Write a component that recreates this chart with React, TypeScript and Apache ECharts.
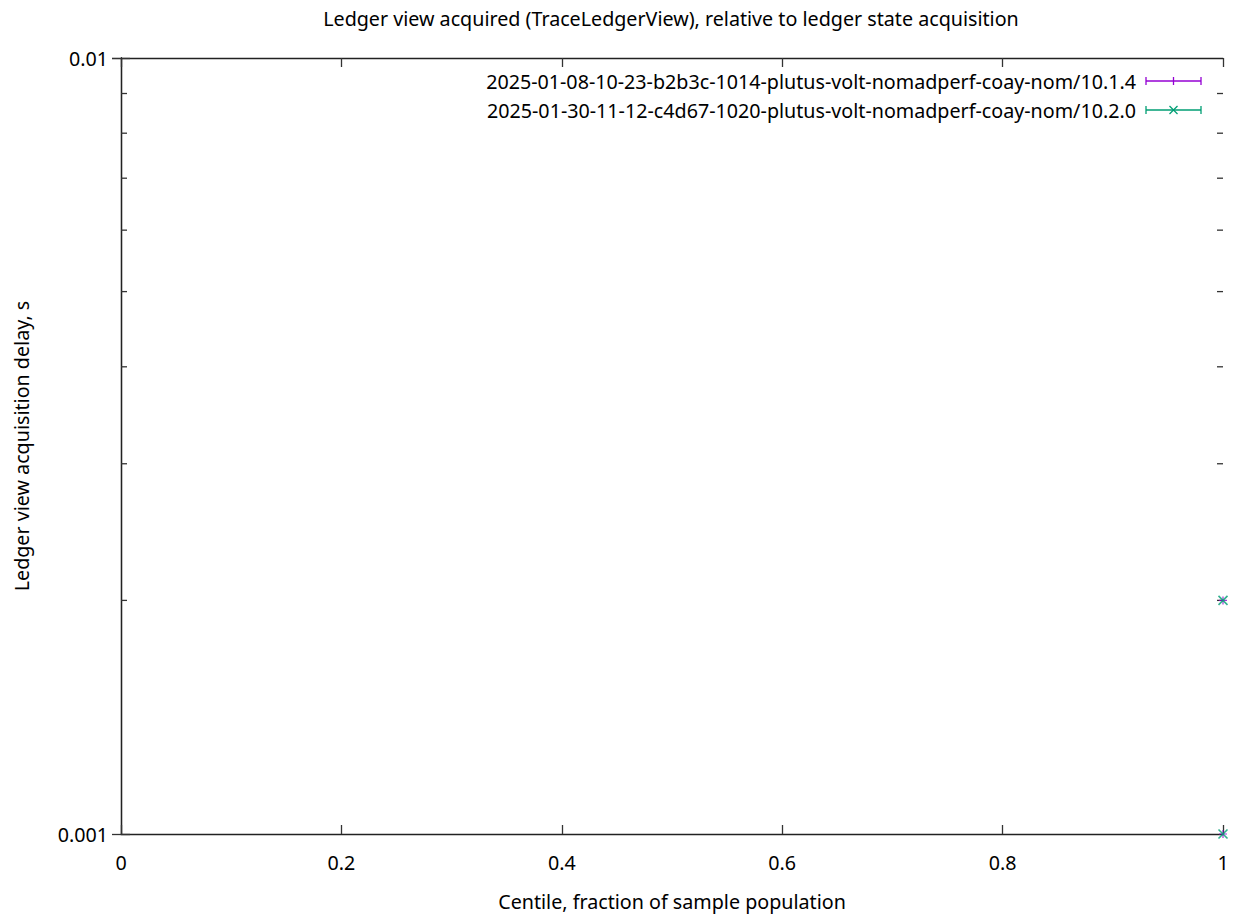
import React, { useEffect, useRef } from "react";
import * as echarts from "echarts";

const titleText = "Ledger view acquired (TraceLedgerView), relative to ledger state acquisition";
const xAxisName = "Centile, fraction of sample population";
const yAxisName = "Ledger view acquisition delay, s";
const seriesNames = [
  "2025-01-08-10-23-b2b3c-1014-plutus-volt-nomadperf-coay-nom/10.1.4",
  "2025-01-30-11-12-c4d67-1020-plutus-volt-nomadperf-coay-nom/10.2.0",
];
const seriesColors = ["#9400D3", "#009E73"];
const centiles = [1, 1];
const delaysA = [0.002, 0.001];
const delaysB = [0.002, 0.001];
const yMinorTicks = [0.002, 0.003, 0.004, 0.005, 0.006, 0.007, 0.008, 0.009];

const FONT = "Noto Sans";
const FS = 19.7;
const PLUS = "path://M5,0 L5,10 M0,5 L10,5";
const CROSS = "path://M0,0 L10,10 M0,10 L10,0";

export default function App() {
  const ref = useRef<HTMLDivElement>(null);
  useEffect(() => {
    const chart = echarts.init(ref.current!, null, { renderer: "svg" });
    const axisLine = { show: true, lineStyle: { color: "#222", width: 1.3 } };
    const majorTick = { show: true, inside: true, length: 9, lineStyle: { color: "#333", width: 1.3 } };
    const legendY = [81, 110];
    const legendGraphics: any[] = [];
    seriesNames.forEach((name, i) => {
      const y = legendY[i];
      const c = seriesColors[i];
      legendGraphics.push(
        { type: "text", x: 1136, y, style: { text: name, fill: "#000", font: `${FS}px "${FONT}"`, align: "right", verticalAlign: "middle" } },
        { type: "line", shape: { x1: 1146, y1: y, x2: 1201, y2: y }, style: { stroke: c, lineWidth: 1.3 } },
        { type: "line", shape: { x1: 1146, y1: y - 4, x2: 1146, y2: y + 4 }, style: { stroke: c, lineWidth: 1.3 } },
        { type: "line", shape: { x1: 1201, y1: y - 4, x2: 1201, y2: y + 4 }, style: { stroke: c, lineWidth: 1.3 } },
      );
      if (i === 0) {
        legendGraphics.push({ type: "line", shape: { x1: 1173.5, y1: y - 4, x2: 1173.5, y2: y + 4 }, style: { stroke: c, lineWidth: 1.3 } });
      } else {
        legendGraphics.push(
          { type: "line", shape: { x1: 1169.5, y1: y - 4, x2: 1177.5, y2: y + 4 }, style: { stroke: c, lineWidth: 1.3 } },
          { type: "line", shape: { x1: 1169.5, y1: y + 4, x2: 1177.5, y2: y - 4 }, style: { stroke: c, lineWidth: 1.3 } },
        );
      }
    });

    chart.setOption({
      animation: false,
      backgroundColor: "#fff",
      textStyle: { fontFamily: FONT },
      title: {
        text: titleText,
        left: 666,
        textAlign: "center",
        top: 3,
        textStyle: { fontFamily: FONT, fontSize: FS, fontWeight: "normal", color: "#000" },
      },
      grid: { left: 121, width: 1102, top: 58, height: 776 },
      xAxis: [
        {
          type: "value",
          min: 0,
          max: 1,
          interval: 0.2,
          name: xAxisName,
          nameLocation: "middle",
          nameGap: 57,
          nameTextStyle: { fontFamily: FONT, fontSize: FS, color: "#000" },
          axisLine,
          axisTick: majorTick,
          axisLabel: { fontFamily: FONT, fontSize: FS, color: "#000", margin: 18 },
          splitLine: { show: false },
        },
        {
          type: "value",
          position: "top",
          min: 0,
          max: 1,
          interval: 0.2,
          axisLine,
          axisTick: majorTick,
          axisLabel: { show: false },
          splitLine: { show: false },
        },
      ],
      yAxis: [
        {
          type: "log",
          logBase: 10,
          min: 0.001,
          max: 0.01,
          name: yAxisName,
          nameLocation: "middle",
          nameGap: 90,
          nameTextStyle: { fontFamily: FONT, fontSize: FS, color: "#000" },
          axisLine,
          axisTick: majorTick,
          axisLabel: {
            fontFamily: FONT,
            fontSize: FS,
            color: "#000",
            margin: 13,
            formatter: (v: number) => String(Number(v.toPrecision(6))),
          },
          splitLine: { show: false },
        },
        {
          type: "log",
          logBase: 10,
          min: 0.001,
          max: 0.01,
          position: "right",
          axisLine,
          axisTick: majorTick,
          axisLabel: { show: false },
          splitLine: { show: false },
        },
      ],
      series: [
        {
          type: "custom",
          silent: true,
          xAxisIndex: 0,
          yAxisIndex: 0,
          data: yMinorTicks.map((v) => [0, v]),
          renderItem: (params: any, api: any) => {
            const v = api.value(1);
            const l = api.coord([0, v]);
            const r = api.coord([1, v]);
            const st = { stroke: "#333", lineWidth: 1.3 };
            return {
              type: "group",
              children: [
                { type: "line", shape: { x1: l[0], y1: l[1], x2: l[0] + 6, y2: l[1] }, style: st },
                { type: "line", shape: { x1: r[0], y1: r[1], x2: r[0] - 6, y2: r[1] }, style: st },
              ],
            };
          },
        },
        {
          name: seriesNames[0],
          type: "scatter",
          data: centiles.map((x, i) => [x, delaysA[i]]),
          symbol: PLUS,
          symbolSize: 8,
          clip: false,
          itemStyle: { color: "rgba(0,0,0,0)", borderColor: seriesColors[0], borderWidth: 1.2 },
          z: 3,
        },
        {
          name: seriesNames[1],
          type: "scatter",
          data: centiles.map((x, i) => [x, delaysB[i]]),
          symbol: CROSS,
          symbolSize: 9,
          clip: false,
          itemStyle: { color: "rgba(0,0,0,0)", borderColor: seriesColors[1], borderWidth: 1.6 },
          z: 4,
        },
      ],
      graphic: legendGraphics,
    });
    return () => chart.dispose();
  }, []);
  return (
    <div
      ref={ref}
      style={{ position: "absolute", left: 0, top: 0, width: 1237, height: 917 }}
    />
  );
}
